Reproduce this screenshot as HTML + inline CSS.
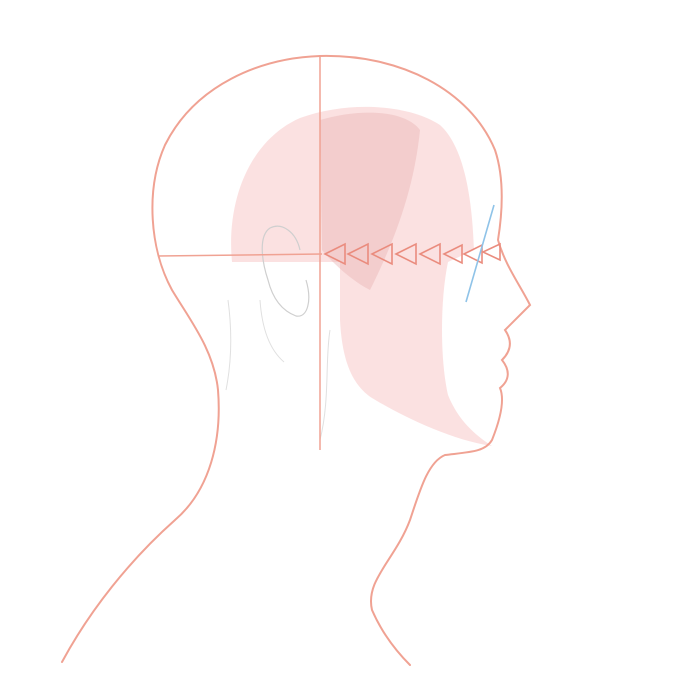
<!DOCTYPE html>
<html><head><meta charset="utf-8"><style>
html,body{margin:0;padding:0;background:#fff;width:700px;height:700px;overflow:hidden}
svg{display:block}
</style></head><body>
<svg width="700" height="700" viewBox="0 0 700 700">
  <!-- pink fill region -->
  <path fill="#fbdfdf" opacity="0.95"
    d="M232,262 C226,200 250,140 300,118 C350,100 410,105 440,125 C462,145 472,190 474,250 L448,262 C440,300 440,360 448,395 C458,420 475,435 492,446 C450,440 400,415 372,398 C352,385 342,360 340,320 L340,262 Z"/>
  <path fill="#e8b6b6" opacity="0.45"
    d="M320,120 C360,108 405,110 420,130 C415,180 400,230 370,290 C350,280 330,260 322,250 Z"/>
  <!-- ear sketch -->
  <path fill="none" stroke="#cfcfcf" stroke-width="1.2"
    d="M300,250 C296,232 282,222 270,228 C258,236 262,262 268,280 C272,296 280,310 296,316 C308,318 312,300 306,280"/>
  <path fill="none" stroke="#e0e0e0" stroke-width="1"
    d="M228,300 C232,330 232,360 226,390 M260,300 C262,330 270,350 284,362 M330,330 C325,360 330,400 320,440"/>
  <!-- guide lines -->
  <line x1="320" y1="55" x2="320" y2="450" stroke="#f0a293" stroke-width="1.5"/>
  <line x1="158" y1="256" x2="322" y2="254" stroke="#f0a293" stroke-width="1.5"/>
  <!-- head outline -->
  <path fill="none" stroke="#f0a293" stroke-width="2" stroke-linecap="round"
    d="M62,662 C90,610 130,560 175,520 C210,490 222,440 218,390 C214,350 190,320 172,290 C150,250 145,190 165,145 C195,85 260,58 320,56 C400,54 470,90 495,150 C505,180 502,215 498,240 C505,265 520,285 530,305 C520,315 510,325 505,330 C512,340 512,350 502,360 C510,370 510,380 500,388 C505,400 500,420 492,440 C485,452 470,452 445,455 C428,462 420,490 410,520 C395,560 365,580 372,610 C385,640 405,660 410,665"/>
  <!-- arrows -->
  <g fill="none" stroke="#ea8c7e" stroke-width="1.6">
    <path d="M325,254 L345,244 L345,264 Z"/>
    <path d="M348,254 L368,244 L368,264 Z"/>
    <path d="M372,254 L392,244 L392,264 Z"/>
    <path d="M396,254 L416,244 L416,264 Z"/>
    <path d="M420,254 L440,244 L440,264 Z"/>
    <path d="M444,254 L462,245 L462,263 Z"/>
    <path d="M464,254 L482,245 L482,263 Z"/>
    <path d="M483,252 L500,244 L500,260 Z"/>
  </g>
  <line x1="494" y1="205" x2="466" y2="302" stroke="#8fc3e8" stroke-width="1.6"/>
</svg>
</body></html>
